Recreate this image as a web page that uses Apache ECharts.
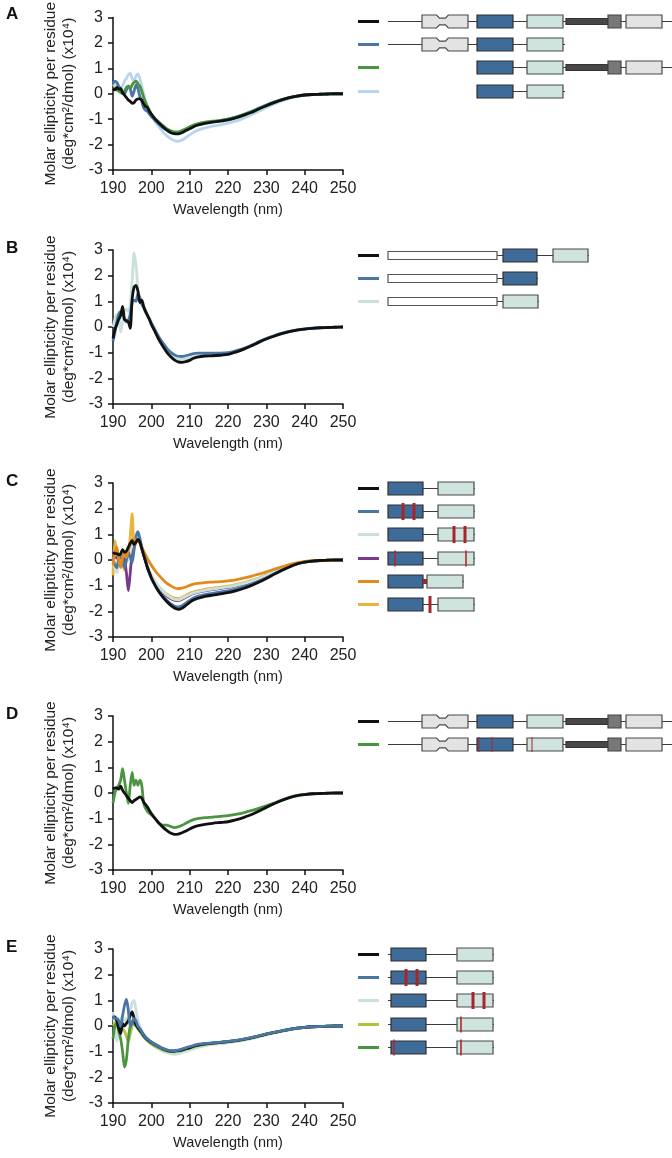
<!DOCTYPE html>
<html><head><meta charset="utf-8">
<script src="https://cdn.jsdelivr.net/npm/echarts@6/dist/echarts.min.js"></script>
<style>html,body{margin:0;padding:0;background:#fff}#c{width:672px;height:1158px}</style>
</head><body><div id="c"></div>
<script>
// Wavelength grid (nm)
const WL = [190,190.5,191,191.5,192,192.5,193,193.5,194,194.5,195,195.5,196,196.5,197,197.5,198,198.5,199,199.5,200,
  201,202,203,204,205,206,207,208,209,210,211,212,
  214,216,218,220,222,224,226,228,230,232,234,236,238,240,242,244,246,248,250];
const Y_TICKS = [-3,-2,-1,0,1,2,3];
const X_TICKS = [190,200,210,220,230,240,250];

// Panel A
const A_FULL = [0.2,0.15,0.25,0.18,0.2,0.05,-0.05,-0.15,-0.25,-0.3,-0.38,-0.35,-0.25,-0.2,-0.2,-0.25,-0.4,-0.5,-0.55,-0.7,-0.8,
  -1.0,-1.15,-1.3,-1.42,-1.52,-1.57,-1.58,-1.53,-1.45,-1.38,-1.3,-1.24,
  -1.17,-1.12,-1.08,-1.03,-0.95,-0.85,-0.74,-0.6,-0.47,-0.35,-0.24,-0.15,-0.09,-0.05,-0.03,-0.02,-0.01,0,0];
const A_DC = [0.4,0.5,0.45,0.3,0.2,0.05,0.0,0.15,0.3,0.2,-0.1,0.1,0.35,0.2,-0.1,-0.3,-0.55,-0.65,-0.7,-0.8,-0.9,
  -1.05,-1.2,-1.33,-1.43,-1.52,-1.56,-1.56,-1.5,-1.43,-1.35,-1.28,-1.22,
  -1.15,-1.1,-1.06,-1.0,-0.92,-0.82,-0.7,-0.57,-0.44,-0.33,-0.23,-0.15,-0.09,-0.05,-0.03,-0.02,-0.01,0,0];
const A_DN = [0.2,0.2,0.15,0.1,0.05,0.0,0.1,0.25,0.3,0.2,0.35,0.45,0.5,0.4,0.3,0.1,-0.15,-0.35,-0.5,-0.65,-0.8,
  -0.98,-1.12,-1.25,-1.37,-1.45,-1.5,-1.5,-1.45,-1.38,-1.3,-1.23,-1.18,
  -1.12,-1.08,-1.05,-1.0,-0.93,-0.83,-0.72,-0.59,-0.46,-0.34,-0.24,-0.15,-0.09,-0.05,-0.03,-0.02,-0.01,0,0];
const A_CORE = [0.3,0.35,0.3,0.25,0.2,0.3,0.5,0.6,0.75,0.8,0.6,0.5,0.7,0.78,0.6,0.3,0.0,-0.3,-0.5,-0.7,-0.85,
  -1.1,-1.3,-1.5,-1.65,-1.76,-1.84,-1.87,-1.82,-1.73,-1.62,-1.52,-1.44,
  -1.34,-1.27,-1.22,-1.16,-1.08,-0.97,-0.84,-0.69,-0.54,-0.4,-0.28,-0.18,-0.11,-0.06,-0.03,-0.02,-0.01,0,0];

// Panel B
const B_FULL = [-0.45,-0.1,0.1,0.3,0.45,0.8,0.3,0.25,0.2,-0.05,1.1,1.55,1.62,1.4,0.95,1.05,0.8,0.6,0.45,0.3,0.1,
  -0.2,-0.5,-0.75,-0.98,-1.15,-1.28,-1.36,-1.38,-1.35,-1.3,-1.22,-1.17,
  -1.13,-1.12,-1.1,-1.07,-0.98,-0.87,-0.74,-0.6,-0.47,-0.36,-0.26,-0.18,-0.12,-0.08,-0.05,-0.03,-0.02,-0.01,0];
const B_D1 = [-0.55,-0.2,0.2,0.5,0.6,0.5,0.3,0.2,0.25,0.5,0.95,1.05,1.0,1.3,1.15,0.9,0.75,0.6,0.45,0.3,0.15,
  -0.12,-0.4,-0.62,-0.82,-0.98,-1.08,-1.14,-1.15,-1.12,-1.08,-1.04,-1.02,
  -1.02,-1.02,-1.02,-1.0,-0.93,-0.84,-0.72,-0.58,-0.45,-0.34,-0.25,-0.17,-0.11,-0.07,-0.04,-0.03,-0.02,-0.01,0];
const B_D2 = [0.0,0.3,0.5,0.4,-0.2,0.2,0.6,0.7,0.6,0.9,1.8,2.9,2.4,1.5,1.0,0.95,0.8,0.65,0.5,0.35,0.2,
  -0.1,-0.4,-0.65,-0.88,-1.05,-1.17,-1.24,-1.26,-1.24,-1.2,-1.16,-1.13,
  -1.1,-1.1,-1.09,-1.06,-0.97,-0.86,-0.73,-0.59,-0.46,-0.35,-0.26,-0.18,-0.12,-0.08,-0.05,-0.03,-0.02,-0.01,0];

// Panel C
const C_WT = [0.3,0.25,0.25,0.2,0.25,0.4,0.3,0.35,0.5,0.65,0.75,0.6,0.7,0.8,0.7,0.45,0.2,-0.05,-0.3,-0.5,-0.7,
  -1.0,-1.25,-1.45,-1.62,-1.76,-1.87,-1.92,-1.88,-1.77,-1.65,-1.56,-1.5,
  -1.42,-1.37,-1.32,-1.27,-1.2,-1.11,-1.0,-0.87,-0.72,-0.56,-0.41,-0.27,-0.15,-0.08,-0.04,-0.02,-0.01,0,0];
const C_M1 = [0.1,-0.2,-0.3,0.1,0.2,-0.1,-0.3,0.0,0.3,0.1,-0.1,0.4,0.9,1.1,0.85,0.5,0.2,-0.05,-0.3,-0.5,-0.7,
  -0.98,-1.22,-1.41,-1.57,-1.7,-1.79,-1.83,-1.78,-1.68,-1.57,-1.48,-1.42,
  -1.35,-1.3,-1.25,-1.2,-1.13,-1.05,-0.95,-0.83,-0.69,-0.54,-0.39,-0.26,-0.15,-0.08,-0.04,-0.02,-0.01,0,0];
const C_M2 = [0.1,-0.3,-0.5,-0.2,-0.1,0.2,0.3,0.1,0.0,0.3,0.6,0.7,0.9,0.85,0.75,0.5,0.25,0.0,-0.25,-0.45,-0.6,
  -0.85,-1.05,-1.22,-1.36,-1.46,-1.53,-1.55,-1.5,-1.42,-1.34,-1.28,-1.24,
  -1.18,-1.13,-1.09,-1.05,-0.99,-0.92,-0.83,-0.72,-0.6,-0.47,-0.35,-0.23,-0.14,-0.07,-0.04,-0.02,-0.01,0,0];
const C_M3 = [0.2,0.1,0.1,0.0,0.05,0.1,0.0,-0.5,-1.2,-0.5,0.3,0.5,0.7,0.8,0.7,0.45,0.2,-0.05,-0.3,-0.5,-0.65,
  -0.9,-1.1,-1.27,-1.4,-1.5,-1.56,-1.58,-1.53,-1.45,-1.37,-1.3,-1.26,
  -1.2,-1.15,-1.11,-1.07,-1.01,-0.94,-0.85,-0.74,-0.61,-0.48,-0.36,-0.24,-0.14,-0.07,-0.04,-0.02,-0.01,0,0];
const C_M4 = [-0.2,0.3,0.5,0.0,-0.3,0.1,0.3,0.1,0.4,0.6,0.8,0.75,0.8,0.75,0.65,0.5,0.35,0.2,0.05,-0.08,-0.2,
  -0.42,-0.6,-0.76,-0.9,-1.0,-1.08,-1.12,-1.1,-1.05,-0.99,-0.94,-0.91,
  -0.88,-0.86,-0.84,-0.81,-0.77,-0.71,-0.64,-0.55,-0.46,-0.36,-0.27,-0.18,-0.11,-0.06,-0.03,-0.02,-0.01,0,0];
const C_M5 = [-0.6,0.75,0.3,0.0,0.1,-0.1,-0.4,0.0,0.3,0.9,1.8,0.6,0.7,0.8,0.7,0.45,0.2,-0.02,-0.25,-0.45,-0.6,
  -0.85,-1.05,-1.2,-1.33,-1.42,-1.48,-1.5,-1.46,-1.38,-1.3,-1.24,-1.2,
  -1.14,-1.1,-1.06,-1.02,-0.96,-0.89,-0.8,-0.7,-0.58,-0.45,-0.33,-0.22,-0.13,-0.07,-0.04,-0.02,-0.01,0,0];

// Panel D
const D_WT = [0.15,0.2,0.2,0.15,0.27,0.1,0.0,-0.1,-0.2,-0.3,-0.37,-0.3,-0.25,-0.2,-0.15,-0.2,-0.35,-0.45,-0.55,-0.68,-0.8,
  -1.0,-1.18,-1.33,-1.46,-1.56,-1.61,-1.6,-1.55,-1.48,-1.4,-1.33,-1.28,
  -1.22,-1.18,-1.15,-1.12,-1.05,-0.96,-0.85,-0.71,-0.56,-0.42,-0.29,-0.18,-0.1,-0.06,-0.03,-0.02,-0.01,0,0];
const D_MUT = [-0.4,0.0,0.2,0.3,0.5,0.95,0.5,0.0,-0.4,0.3,0.8,0.3,0.5,0.3,0.5,0.3,-0.4,-0.6,-0.72,-0.8,-0.85,
  -1.0,-1.18,-1.25,-1.25,-1.3,-1.35,-1.32,-1.26,-1.18,-1.1,-1.04,-1.0,
  -0.96,-0.94,-0.91,-0.88,-0.83,-0.77,-0.69,-0.6,-0.5,-0.39,-0.28,-0.18,-0.1,-0.06,-0.03,-0.02,-0.01,0,0];

// Panel E
const E_WT = [0.3,0.35,0.2,-0.1,-0.3,0.1,0.0,0.1,0.2,0.4,0.55,0.3,0.05,-0.05,-0.15,-0.25,-0.35,-0.45,-0.52,-0.58,-0.63,
  -0.72,-0.8,-0.88,-0.94,-0.98,-0.98,-0.96,-0.93,-0.88,-0.84,-0.79,-0.75,
  -0.7,-0.67,-0.64,-0.61,-0.57,-0.52,-0.46,-0.39,-0.32,-0.25,-0.19,-0.13,-0.08,-0.05,-0.03,-0.02,-0.01,0,0];
const E_M1 = [0.4,0.3,0.3,0.2,0.0,0.4,0.8,1.05,0.6,0.0,0.1,0.3,0.2,0.0,-0.1,-0.22,-0.33,-0.43,-0.5,-0.57,-0.62,
  -0.72,-0.8,-0.87,-0.93,-0.96,-0.96,-0.94,-0.9,-0.85,-0.8,-0.76,-0.72,
  -0.68,-0.66,-0.63,-0.6,-0.56,-0.51,-0.45,-0.38,-0.31,-0.25,-0.19,-0.13,-0.08,-0.05,-0.03,-0.02,-0.01,0,0];
const E_M2 = [0.55,0.0,-0.6,-0.2,0.3,0.2,0.2,0.3,0.3,0.6,0.9,1.0,0.6,0.2,0.0,-0.2,-0.35,-0.47,-0.57,-0.65,-0.72,
  -0.82,-0.9,-0.98,-1.04,-1.08,-1.1,-1.08,-1.04,-0.99,-0.94,-0.89,-0.84,
  -0.77,-0.72,-0.69,-0.66,-0.61,-0.56,-0.5,-0.42,-0.35,-0.28,-0.21,-0.15,-0.09,-0.05,-0.03,-0.02,-0.01,0,0];
const E_M3 = [0.0,0.1,0.2,0.15,0.1,-0.1,-0.2,-0.4,-0.6,-0.3,0.0,0.3,0.1,-0.1,-0.15,-0.25,-0.38,-0.48,-0.55,-0.62,-0.68,
  -0.78,-0.86,-0.93,-0.98,-1.0,-1.0,-0.98,-0.95,-0.9,-0.86,-0.81,-0.77,
  -0.72,-0.68,-0.65,-0.62,-0.58,-0.53,-0.47,-0.4,-0.33,-0.26,-0.2,-0.14,-0.09,-0.05,-0.03,-0.02,-0.01,0,0];
const E_M4 = [-0.5,0.0,0.1,-0.2,-0.5,-1.0,-1.6,-1.3,-0.5,0.0,0.2,0.1,0.0,-0.1,-0.2,-0.3,-0.42,-0.5,-0.56,-0.62,-0.67,
  -0.76,-0.84,-0.91,-0.96,-0.99,-0.99,-0.97,-0.94,-0.89,-0.85,-0.8,-0.76,
  -0.71,-0.67,-0.64,-0.61,-0.57,-0.52,-0.46,-0.39,-0.32,-0.25,-0.19,-0.13,-0.08,-0.05,-0.03,-0.02,-0.01,0,0];

// Construct diagrams (residue-like units along the construct)
const FULL_PARTS = [['cap',34,80],['blue',89,125],['teal',139,175],['linker',178,220],['knob',220,233],['grey',238,274]];
const DIAG_A = [
  {chain:[0,284], parts:FULL_PARTS, muts:[]},
  {chain:[0,177], parts:[['cap',34,80],['blue',89,125],['teal',139,175]], muts:[]},
  {chain:[89,284], parts:[['blue',89,125],['teal',139,175],['linker',178,220],['knob',220,233],['grey',238,274]], muts:[]},
  {chain:[89,177], parts:[['blue',89,125],['teal',139,175]], muts:[]}
];
const DIAG_B = [
  {chain:[0,201], parts:[['white',0,109],['blue',115,149],['teal',165,200]], muts:[]},
  {chain:[0,150], parts:[['white',0,109],['blue',115,149]], muts:[]},
  {chain:[0,151], parts:[['white',0,109],['teal',115,150]], muts:[]}
];
const C_PARTS = [['blue',0,35],['teal',50,86]];
const DIAG_C = [
  {chain:[0,87], parts:C_PARTS, muts:[]},
  {chain:[0,87], parts:C_PARTS, muts:[['thick',15],['thick',26]]},
  {chain:[0,87], parts:C_PARTS, muts:[['thick',66],['thick',77]]},
  {chain:[0,87], parts:C_PARTS, muts:[['thin',7],['thin',78]]},
  {chain:[0,76], parts:[['blue',0,35],['redlink',35,39],['teal',39,75]], muts:[]},
  {chain:[0,87], parts:C_PARTS, muts:[['thick',42]]}
];
const DIAG_D = [
  {chain:[0,284], parts:FULL_PARTS, muts:[]},
  {chain:[0,284], parts:FULL_PARTS, muts:[['faint',91],['faint',104],['faint',144]]}
];
const E_PARTS = [['blue',3,38],['teal',69,105]];
const DIAG_E = [
  {chain:[0,106], parts:E_PARTS, muts:[]},
  {chain:[0,106], parts:E_PARTS, muts:[['thick',18],['thick',29]]},
  {chain:[0,106], parts:E_PARTS, muts:[['thick',85],['thick',96]]},
  {chain:[0,106], parts:E_PARTS, muts:[['thin',73]]},
  {chain:[0,106], parts:E_PARTS, muts:[['thin',6],['thin',73]]}
];

const BLACK='#111111', BLUE='#4a76a6', GREEN='#4b9441', LBLUE='#b9d5ed', TEAL='#c9e0db',
      PURPLE='#783a8e', ORANGE='#e08b1d', YELLOW='#e8b43b', YGREEN='#b3c23c';

const PANELS = [
  {letter:'A', curves:[A_FULL,A_DC,A_DN,A_CORE], colors:[BLACK,BLUE,GREEN,LBLUE], order:[3,1,2,0], diagram:DIAG_A},
  {letter:'B', curves:[B_FULL,B_D1,B_D2], colors:[BLACK,BLUE,TEAL], order:[2,1,0], diagram:DIAG_B},
  {letter:'C', curves:[C_WT,C_M1,C_M2,C_M3,C_M4,C_M5], colors:[BLACK,BLUE,TEAL,PURPLE,ORANGE,YELLOW], order:[5,3,2,1,4,0], diagram:DIAG_C},
  {letter:'D', curves:[D_WT,D_MUT], colors:[BLACK,GREEN], order:[1,0], diagram:DIAG_D},
  {letter:'E', curves:[E_WT,E_M1,E_M2,E_M3,E_M4], colors:[BLACK,BLUE,TEAL,YGREEN,GREEN], order:[2,3,4,0,1], diagram:DIAG_E}
];

const FONT = "'Liberation Sans', Arial, Helvetica, sans-serif";
const PLOT_TOPS = [16, 250, 483, 716, 949];
const ROW_H = 23.33;

const FILL = {
  blue:{fill:'#3f6b99', stroke:'#2f2f2f', h:13},
  teal:{fill:'#cfe4df', stroke:'#4a4a4a', h:13},
  grey:{fill:'#e3e3e3', stroke:'#4a4a4a', h:13},
  cap:{fill:'#e3e3e3', stroke:'#4a4a4a', h:13},
  white:{fill:'#ffffff', stroke:'#555555', h:8},
  linker:{fill:'#474747', stroke:'#333333', h:6},
  knob:{fill:'#787878', stroke:'#444444', h:13},
  redlink:{fill:'#a3262b', stroke:'#a3262b', h:5}
};
const MUT = {
  thick:{w:3, h:17, color:'#a8262b'},
  thin:{w:1.6, h:16, color:'#b02a2f'},
  faint:{w:1.6, h:15, color:'rgba(170,40,55,0.65)'}
};

function flattenDiagram(d, colors){
  const items = [];
  d.forEach((r,row)=>{ items.push({kind:'chain', row, x1:r.chain[0], x2:r.chain[1]}); });
  d.forEach((r,row)=>{ r.parts.forEach(p=>items.push({kind:p[0], row, x1:p[1], x2:p[2]})); });
  d.forEach((r,row)=>{ r.muts.forEach(m=>items.push({kind:'mut', mk:m[0], row, x1:m[1], x2:m[1]})); });
  d.forEach((r,row)=>{ items.push({kind:'swatch', row, x1:-30, x2:-9, color:colors[row]}); });
  return items;
}

function makeRender(items){
  return function(params, api){
    const it = items[params.dataIndex];
    const a = api.coord([it.x1, it.row]);
    const b = api.coord([it.x2, it.row]);
    const cy = Math.round(a[1]) + 0.5;
    const x1 = a[0], x2 = b[0];
    if (it.kind === 'chain') {
      return {type:'line', shape:{x1:x1, y1:cy, x2:x2, y2:cy}, style:{stroke:'#3c3c3c', lineWidth:1}};
    }
    if (it.kind === 'swatch') {
      return {type:'line', shape:{x1:x1, y1:cy, x2:x2, y2:cy}, style:{stroke:it.color, lineWidth:3}};
    }
    if (it.kind === 'mut') {
      const m = MUT[it.mk];
      return {type:'rect', shape:{x:x1 - m.w/2, y:cy - m.h/2, width:m.w, height:m.h}, style:{fill:m.color}};
    }
    const f = FILL[it.kind];
    if (it.kind === 'cap') {
      const unit = (api.coord([1, it.row])[0] - api.coord([0, it.row])[0]);
      const t = cy - f.h/2, bt = cy + f.h/2, d = 3.2;
      const xa = x1 + 14.5*unit, xb = x1 + 17.5*unit, xc = x1 + 23.5*unit, xd = x1 + 26.3*unit;
      return {type:'polygon', shape:{points:[[x1,t],[xa,t],[xb,t+d],[xc,t+d],[xd,t],[x2,t],[x2,bt],[xd,bt],[xc,bt-d],[xb,bt-d],[xa,bt],[x1,bt]]},
        style:{fill:f.fill, stroke:f.stroke, lineWidth:1.2}};
    }
    return {type:'rect', shape:{x:x1, y:cy - f.h/2, width:x2 - x1, height:f.h},
      style:{fill:f.fill, stroke:f.stroke, lineWidth:(it.kind==='redlink'?0:1.2)}};
  };
}

const grid=[], xAxis=[], yAxis=[], series=[], title=[];
PANELS.forEach((p,i)=>{
  const top = PLOT_TOPS[i];
  title.push({text:p.letter, left:1, top:top-15, textStyle:{fontFamily:FONT, fontSize:17, fontWeight:'bold', color:'#111'}});
  grid.push({left:113, top:top, width:230, height:154});
  xAxis.push({type:'value', gridIndex:2*i, min:X_TICKS[0], max:X_TICKS[X_TICKS.length-1], interval:10,
    name:'Wavelength (nm)', nameLocation:'middle', nameGap:32,
    nameTextStyle:{fontFamily:FONT, fontSize:14.5, color:'#222'},
    axisLine:{onZero:false, lineStyle:{color:'#111', width:1.5}},
    axisTick:{length:5, lineStyle:{color:'#111', width:1.5}},
    axisLabel:{margin:11, fontFamily:FONT, fontSize:16, color:'#222'},
    splitLine:{show:false}});
  yAxis.push({type:'value', gridIndex:2*i, min:Y_TICKS[0], max:Y_TICKS[Y_TICKS.length-1], interval:1,
    name:'Molar ellipticity per residue\n(deg*cm²/dmol) (x10⁴)', nameLocation:'middle', nameGap:35,
    nameTextStyle:{fontFamily:FONT, fontSize:15.5, lineHeight:18, color:'#222'},
    axisLine:{show:true, onZero:false, lineStyle:{color:'#111', width:1.5}},
    axisTick:{show:true, length:5, lineStyle:{color:'#111', width:1.5}},
    axisLabel:{margin:10, fontFamily:FONT, fontSize:16, color:'#222'},
    splitLine:{show:false}});
  p.order.forEach(k=>{
    series.push({type:'line', xAxisIndex:2*i, yAxisIndex:2*i, showSymbol:false, smooth:0.25,
      data: WL.map((w,j)=>[w, p.curves[k][j]]),
      lineStyle:{color:p.colors[k], width:2.8}, itemStyle:{color:p.colors[k]}, z:2});
  });
  const n = p.diagram.length;
  const rows = p.diagram.map((_,r)=>String(r));
  grid.push({left:358, top:top + 4.8 - ROW_H/2, width:314, height:n*ROW_H});
  xAxis.push({type:'value', gridIndex:2*i+1, min:-30, max:284, show:false});
  yAxis.push({type:'category', gridIndex:2*i+1, data:rows, inverse:true, show:false});
  const items = flattenDiagram(p.diagram, p.colors);
  series.push({type:'custom', xAxisIndex:2*i+1, yAxisIndex:2*i+1, clip:false, silent:true,
    renderItem: makeRender(items),
    encode:{x:[0,2], y:1},
    data: items.map(it=>[it.x1, it.row, it.x2])});
});

const chart = echarts.init(document.getElementById('c'), null, {renderer:'canvas'});
chart.setOption({animation:false, backgroundColor:'#ffffff', title, grid, xAxis, yAxis, series});
</script>
</body></html>
